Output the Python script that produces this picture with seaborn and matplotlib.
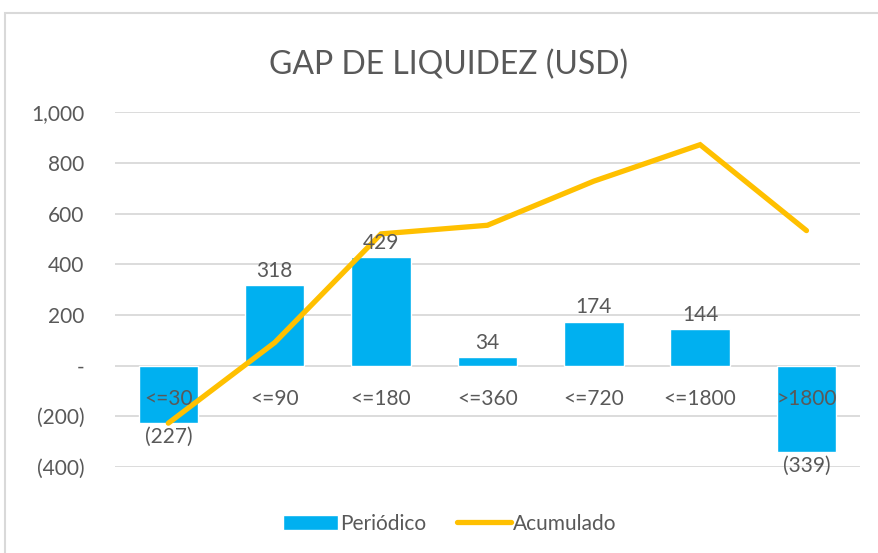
import matplotlib
matplotlib.use("Agg")
import matplotlib.pyplot as plt
import matplotlib.ticker as mticker
from matplotlib.patches import Rectangle
import seaborn as sns

categorias = ["<=30", "<=90", "<=180", "<=360", "<=720", "<=1800", ">1800"]
periodico = [-227, 318, 429, 34, 174, 144, -339]
acumulado = [-227, 91, 520, 554, 728, 872, 533]

AZUL = "#00B0F0"
AMARILLO = "#FFC000"
GRIS = "#595959"


def fmt_num(v, pos=None):
    """Formato contable: negativos entre paréntesis, cero como guion."""
    if round(v) == 0:
        return "-"
    if v < 0:
        return f"({abs(v):,.0f})"
    return f"{v:,.0f}"


sns.set_style("white")
plt.rcParams["font.family"] = ["Lato", "DejaVu Sans"]

fig = plt.figure(figsize=(8.79, 5.53), dpi=100)
ax = fig.add_axes([0.131, 0.1555, 0.847, 0.6415])

sns.barplot(x=categorias, y=periodico, color=AZUL, width=0.56,
            saturation=1, ax=ax, label="Periódico")
sns.lineplot(x=categorias, y=acumulado, color=AMARILLO, linewidth=3.8,
             sort=False, ax=ax, label="Acumulado")
ax.lines[-1].set_solid_capstyle("round")
ax.lines[-1].set_solid_joinstyle("miter")

ax.set_ylim(-400, 1000)
ax.set_xlim(-0.5, 6.5)
ax.yaxis.set_major_locator(mticker.MultipleLocator(200))
ax.yaxis.set_major_formatter(mticker.FuncFormatter(fmt_num))
ax.tick_params(axis="y", labelsize=15, labelcolor=GRIS, length=0, pad=22)
ax.set_xticks([])
ax.grid(axis="y", color="#D9D9D9", linewidth=1.3)
ax.set_axisbelow(True)
for s in ax.spines.values():
    s.set_visible(False)

# etiquetas de categoría junto al eje cero
for i, cat in enumerate(categorias):
    ax.annotate(cat, (i, 0), xytext=(0, -24), textcoords="offset points",
                ha="center", va="center", fontsize=15, color=GRIS)

# etiquetas de datos de las barras
ax.bar_label(ax.containers[0], labels=[fmt_num(v) for v in periodico],
             padding=3, fontsize=15, color=GRIS)

fig.suptitle("GAP DE LIQUIDEZ (USD)", x=0.51, y=0.91, fontsize=23,
             color=GRIS)

handles, labels = ax.get_legend_handles_labels()
orden = [labels.index("Periódico"), labels.index("Acumulado")]
leg = ax.legend([handles[i] for i in orden], [labels[i] for i in orden],
                loc="center", bbox_to_anchor=(0.45, -0.16), ncol=2,
                frameon=False, fontsize=15, handlelength=2.6,
                handletextpad=0.1, columnspacing=1.5)
for t in leg.get_texts():
    t.set_color(GRIS)

# marco del gráfico
fig.patches.append(Rectangle((5 / 879, -0.1), 1.1, 1 - 13 / 553 + 0.1,
                             transform=fig.transFigure, fill=False,
                             edgecolor="#D9D9D9", linewidth=1.5))

fig.savefig("out.png", dpi=100)
